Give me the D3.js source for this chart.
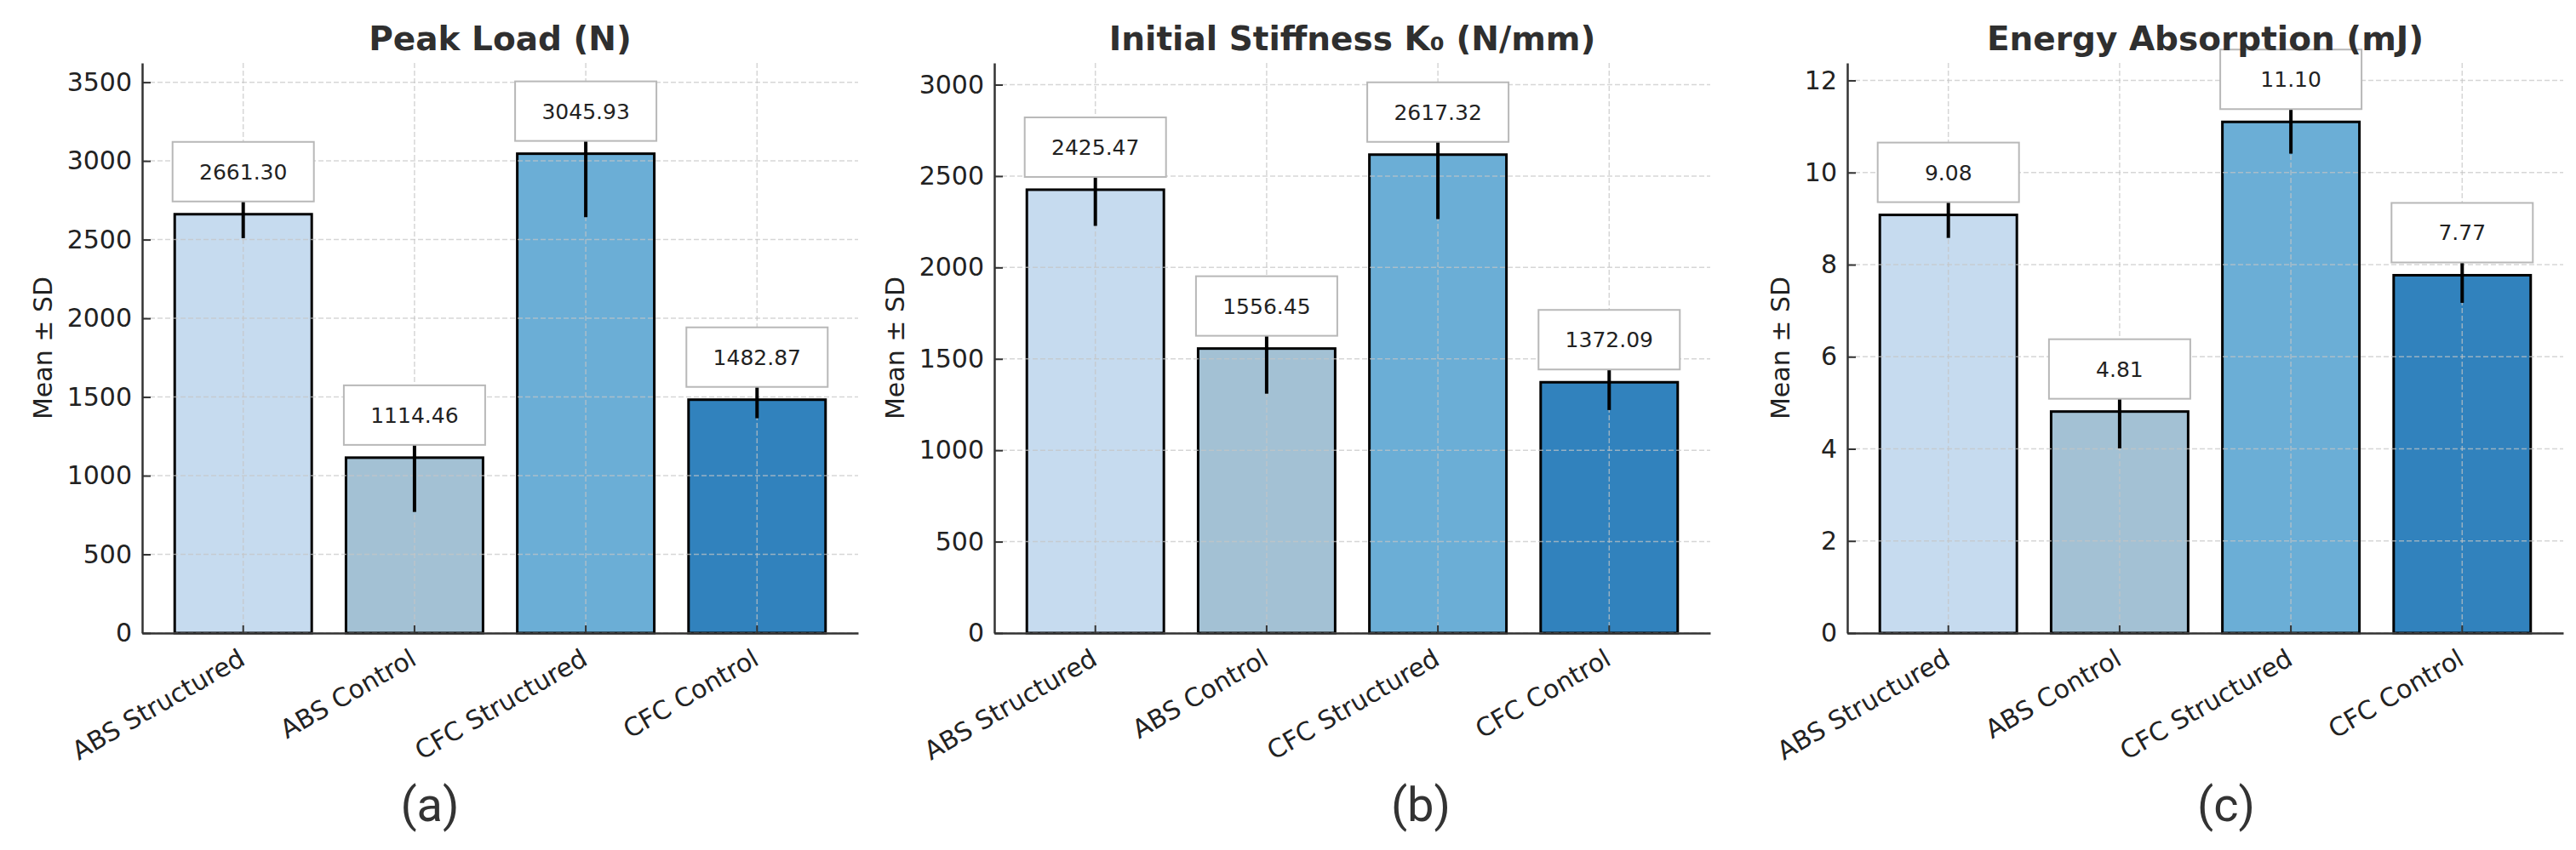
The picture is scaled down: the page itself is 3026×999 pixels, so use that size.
<!DOCTYPE html>
<html>
<head>
<meta charset="utf-8">
<script src="https://cdn.jsdelivr.net/npm/d3@7"></script>
<style>
  body { margin: 0; background: #fff; }
  svg { display: block; }
</style>
</head>
<body>
<div id="wrapper"></div>
<script>
// shared categories and bar colours
const categories = ['ABS Structured', 'ABS Control', 'CFC Structured', 'CFC Control'];
const barColors = ['#c6dbef', '#a3c1d4', '#6baed6', '#3182bd'];

const titles = ['Peak Load (N)', 'Initial Stiffness K\u2080 (N/mm)', 'Energy Absorption (mJ)'];
const panelTags = ['(a)', '(b)', '(c)'];

// mean and SD per panel
const peakLoadMean = [2661.30, 1114.46, 3045.93, 1482.87];
const peakLoadSd = [152, 345, 404, 118];
const stiffnessMean = [2425.47, 1556.45, 2617.32, 1372.09];
const stiffnessSd = [198, 247, 353, 152];
const energyMean = [9.08, 4.81, 11.10, 7.77];
const energySd = [0.50, 0.80, 0.69, 0.60];

// y tick labels
const peakLoadTicks = [0, 500, 1000, 1500, 2000, 2500, 3000, 3500];
const stiffnessTicks = [0, 500, 1000, 1500, 2000, 2500, 3000];
const energyTicks = [0, 2, 4, 6, 8, 10, 12];

const panels = [
    { mean: peakLoadMean, sd: peakLoadSd, ticks: peakLoadTicks },
    { mean: stiffnessMean, sd: stiffnessSd, ticks: stiffnessTicks },
    { mean: energyMean, sd: energySd, ticks: energyTicks }
];

// layout
const W = 3026, H = 999;
const axLeft = [167, 1168, 2170];
const axW = 841;
const axTop = 74, axH = 670;
const tagX = [505, 1669, 2615];
const boxW = 166, boxH = 70, boxGap = 15;

const svg = d3.select('#wrapper')
    .append('svg')
    .attr('width', W)
    .attr('height', H)
    .style('background', '#fff');

panels.forEach(function (p, k) {
    let rows = categories.map(function (c, i) {
        return { cat: c, mean: p.mean[i], sd: p.sd[i], color: barColors[i] };
    });

    let x = d3.scaleBand()
        .domain(categories)
        .range([0, axW])
        .paddingInner(0.2)
        .paddingOuter(0.19);

    let yMax = d3.max(rows, function (d) { return d.mean + d.sd }) * 1.05;
    let y = d3.scaleLinear().domain([0, yMax]).range([axH, 0]);

    let g = svg.append('g').attr('transform', `translate(${axLeft[k]},${axTop})`);

    // bars
    g.selectAll('rect.bar')
        .data(rows)
        .enter()
        .append('rect')
        .attr('class', 'bar')
        .attr('x', function (d) { return x(d.cat) })
        .attr('y', function (d) { return y(d.mean) })
        .attr('width', x.bandwidth())
        .attr('height', function (d) { return axH - y(d.mean) })
        .style('fill', function (d) { return d.color })
        .style('stroke', '#000')
        .style('stroke-width', 3);

    // dashed grid on top of the bars
    let grid = g.append('g')
        .style('stroke', '#c4c4c4')
        .style('stroke-opacity', 0.7)
        .style('stroke-width', 1.5)
        .style('stroke-dasharray', '6,3');
    grid.selectAll('line.h')
        .data(p.ticks)
        .enter()
        .append('line')
        .attr('x1', 0).attr('x2', axW)
        .attr('y1', function (d) { return y(d) })
        .attr('y2', function (d) { return y(d) });
    grid.selectAll('line.v')
        .data(categories)
        .enter()
        .append('line')
        .attr('y1', 0).attr('y2', axH)
        .attr('x1', function (d) { return x(d) + x.bandwidth() / 2 })
        .attr('x2', function (d) { return x(d) + x.bandwidth() / 2 });

    // error bars
    g.selectAll('line.err')
        .data(rows)
        .enter()
        .append('line')
        .attr('x1', function (d) { return x(d.cat) + x.bandwidth() / 2 })
        .attr('x2', function (d) { return x(d.cat) + x.bandwidth() / 2 })
        .attr('y1', function (d) { return y(d.mean - d.sd) })
        .attr('y2', function (d) { return y(d.mean + d.sd) })
        .style('stroke', '#000')
        .style('stroke-width', 4);

    // value boxes
    let lab = g.selectAll('g.lab')
        .data(rows)
        .enter()
        .append('g')
        .attr('transform', function (d) {
            return `translate(${x(d.cat) + x.bandwidth() / 2},${y(d.mean) - boxGap - boxH / 2})`;
        });
    lab.append('rect')
        .attr('x', -boxW / 2).attr('y', -boxH / 2)
        .attr('width', boxW).attr('height', boxH)
        .style('fill', '#fff')
        .style('stroke', '#b8b8b8')
        .style('stroke-width', 2);
    lab.append('text')
        .attr('text-anchor', 'middle')
        .attr('y', 9)
        .style('font-family', 'DejaVu Sans')
        .style('font-size', '25px')
        .style('fill', '#222')
        .text(function (d) { return d.mean.toFixed(2) });

    // axes
    let yAxis = g.append('g')
        .call(d3.axisLeft(y)
            .tickValues(p.ticks)
            .tickFormat(d3.format('d'))
            .tickSizeInner(-10)
            .tickSizeOuter(0)
            .tickPadding(12));
    let xAxis = g.append('g')
        .attr('transform', `translate(0,${axH})`)
        .call(d3.axisBottom(x).tickSizeInner(-9).tickSizeOuter(0));

    [yAxis, xAxis].forEach(function (a) {
        a.attr('font-family', 'DejaVu Sans').attr('font-size', 30);
        a.select('.domain').style('stroke', '#333').style('stroke-width', 2.5);
        a.selectAll('.tick line').style('stroke', '#333').style('stroke-width', 2);
        a.selectAll('.tick text').style('fill', '#222');
    });
    xAxis.selectAll('.tick text')
        .attr('x', 0).attr('y', 0).attr('dy', null)
        .attr('text-anchor', 'end')
        .attr('transform', 'translate(4,36) rotate(-30)');

    // y label sits left of the widest tick label
    let tickLeft = yAxis.node().getBBox().x;
    g.append('text')
        .attr('transform', `translate(${tickLeft - 18},${axH / 2}) rotate(-90)`)
        .attr('text-anchor', 'middle')
        .style('font-family', 'DejaVu Sans')
        .style('font-size', '30px')
        .style('fill', '#222')
        .text('Mean \u00b1 SD');

    // title
    svg.append('text')
        .attr('x', axLeft[k] + axW / 2)
        .attr('y', 59)
        .attr('text-anchor', 'middle')
        .style('font-family', 'DejaVu Sans')
        .style('font-weight', 'bold')
        .style('font-size', '39px')
        .style('fill', '#2f2f2f')
        .text(titles[k]);

    // panel tag
    svg.append('text')
        .attr('x', tagX[k])
        .attr('y', 965)
        .attr('text-anchor', 'middle')
        .style('font-family', 'Roboto')
        .style('font-size', '56px')
        .style('fill', '#333')
        .text(panelTags[k]);
});
</script>
</body>
</html>
